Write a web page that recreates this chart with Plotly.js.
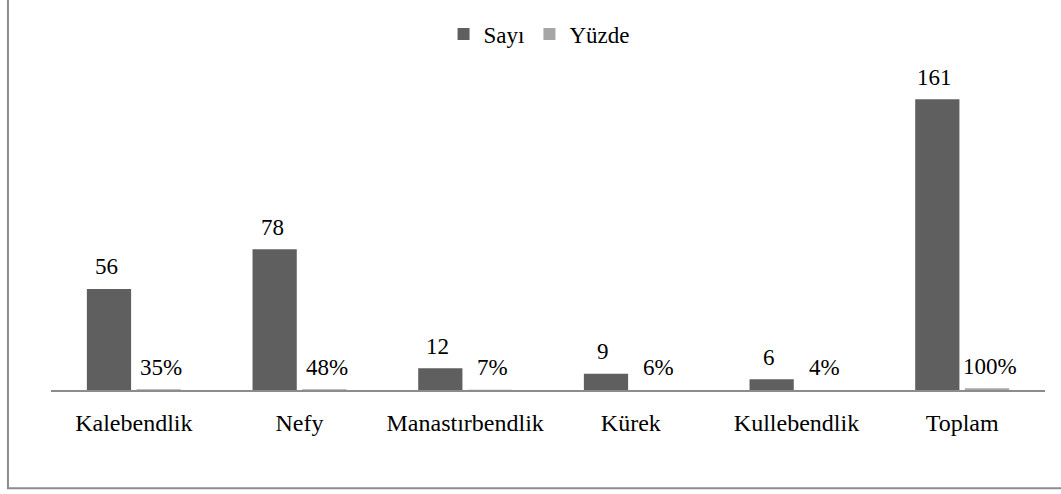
<!DOCTYPE html>
<html>
<head>
<meta charset="utf-8">
<script src="https://cdn.plot.ly/plotly-3.0.1.min.js"></script>
<style>html,body{margin:0;padding:0;background:#fff;}#chart{width:1061px;height:494px;}</style>
</head>
<body>
<div id="chart"></div>
<script>
var categories = ["Kalebendlik", "Nefy", "Manastırbendlik", "Kürek", "Kullebendlik", "Toplam"];
var sayi = [56, 78, 12, 9, 6, 161];
var yuzde = [0.35, 0.48, 0.07, 0.06, 0.04, 1.00];
var yuzdeLabels = ["35%", "48%", "7%", "6%", "4%", "100%"];

var FONT = "Liberation Serif";

var traces = [
  {type: "bar", name: "Sayı", x: categories, y: sayi, marker: {color: "#5f5f5f"}, hoverinfo: "none"},
  {type: "bar", name: "Yüzde", x: categories, y: yuzde, marker: {color: "#a6a6a6"}, hoverinfo: "none"}
];

var annotations = [];
categories.forEach(function (c, i) {
  annotations.push({x: c, y: sayi[i], xref: "x", yref: "y", text: String(sayi[i]), showarrow: false,
    xshift: -27.5, yshift: 22, yanchor: "middle", font: {family: FONT, size: 23, color: "#000"}});
  annotations.push({x: c, y: yuzde[i], xref: "x", yref: "y", text: yuzdeLabels[i], showarrow: false,
    xshift: 27.5, yshift: 22, yanchor: "middle", font: {family: FONT, size: 23, color: "#000"}});
});

var layout = {
  width: 1061, height: 494,
  margin: {l: 51, r: 16, t: 65, b: 103.5},
  paper_bgcolor: "#fff", plot_bgcolor: "#fff",
  barmode: "group", bargap: 0.40, bargroupgap: 0.11,
  font: {family: FONT, size: 23, color: "#000"},
  showlegend: true,
  legend: {orientation: "h", x: 0.491, xanchor: "center", y: 1.095, yanchor: "middle",
    font: {family: FONT, size: 23, color: "#000"}, itemwidth: 30, tracegroupgap: 0},
  xaxis: {type: "category", showline: true, linecolor: "#8c8c8c", linewidth: 2, ticks: "",
    ticklabelstandoff: 10, tickfont: {family: FONT, size: 24, color: "#000"}, showgrid: false, zeroline: false, fixedrange: true},
  yaxis: {range: [0, 180], visible: false, showgrid: false, zeroline: false, fixedrange: true},
  annotations: annotations,
  shapes: [{type: "rect", xref: "paper", yref: "paper", x0: -0.0433, x1: 1.2, y0: -0.3026, y1: 1.5,
    line: {color: "#8c8c8c", width: 2}, fillcolor: "rgba(0,0,0,0)", layer: "below"}]
};

Plotly.newPlot("chart", traces, layout, {displayModeBar: false, staticPlot: true});
</script>
</body>
</html>
